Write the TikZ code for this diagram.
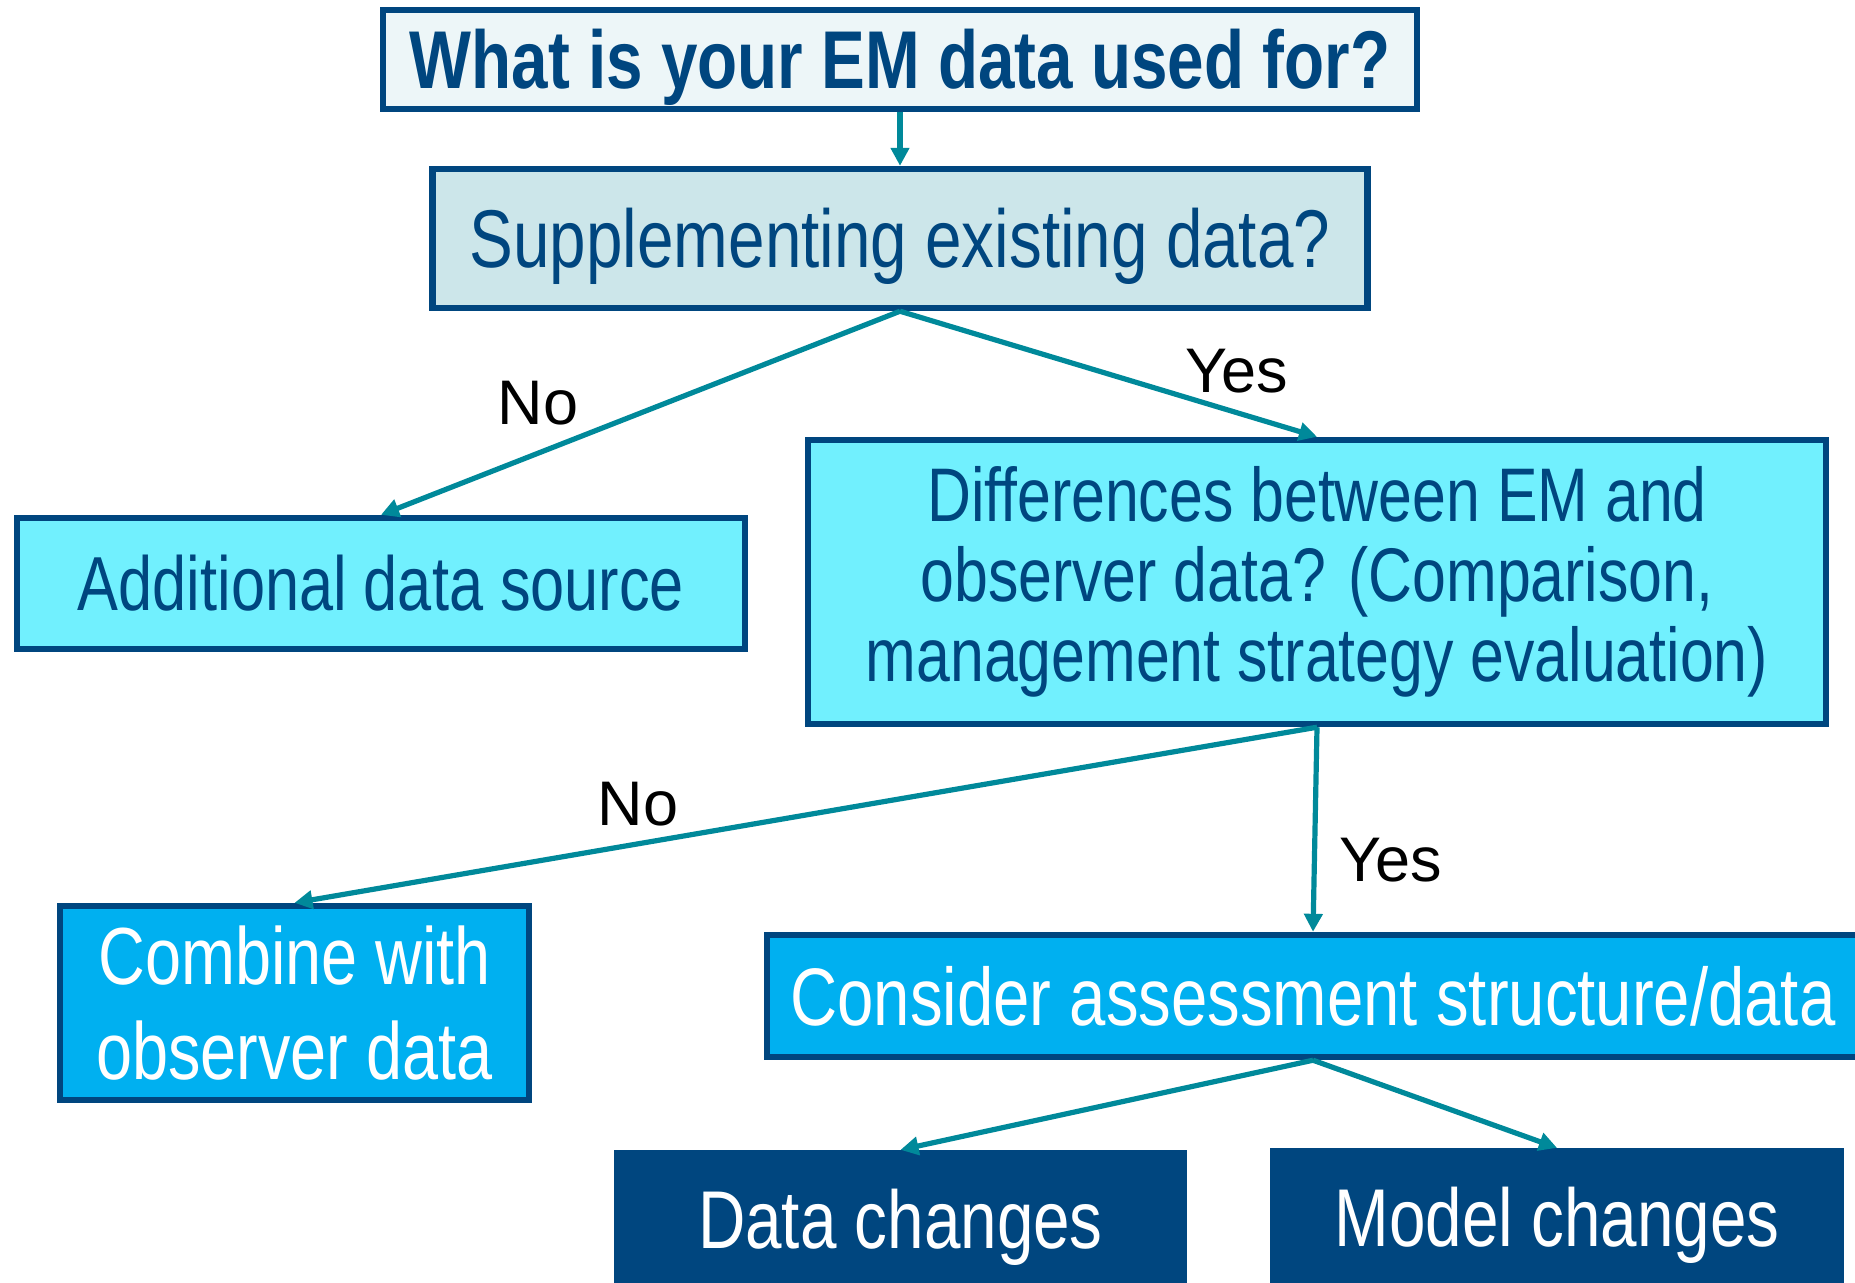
\documentclass[tikz,border=0pt]{standalone}
\usepackage{fontspec}
\setmainfont{Liberation Sans}
\newfontfamily\narrowfont{Liberation Sans}[FakeStretch=0.8]
\usetikzlibrary{arrows.meta}
\definecolor{dblue}{HTML}{00467F}
\definecolor{tealc}{HTML}{00899A}
\definecolor{palefill}{HTML}{EDF6F8}
\definecolor{lightfill}{HTML}{CCE6EA}
\definecolor{cyanfill}{HTML}{71F0FE}
\definecolor{skyfill}{HTML}{00B0F0}
\begin{document}
\begin{tikzpicture}[x=0.5pt,y=-0.5pt,
  box/.style={draw=dblue, line width=3.2pt, inner sep=0pt, align=center, text=dblue},
  oneline/.style={text height=#1, text depth=0pt},
  conn/.style={draw=tealc, line width=2.6pt, -{Triangle[length=9pt,width=9pt]}},
  lbl/.style={font=\fontsize{31.5}{36}\selectfont, text=black, inner sep=0pt}]
\useasboundingbox (0,0) rectangle (1855,1282);
% boxes
\node[box, fill=palefill, minimum width=517pt, minimum height=49.5pt, oneline=29.4pt,
      font=\narrowfont\bfseries\fontsize{41}{49}\selectfont] (q1) at (900,59.5) {What is your EM data used for?};
\node[box, fill=lightfill, minimum width=467.5pt, minimum height=69.5pt, oneline=29.4pt,
      font=\narrowfont\fontsize{41}{49}\selectfont] (q2) at (900,238.5) {Supplementing existing data?};
\node[box, fill=cyanfill, minimum width=364pt, minimum height=65.5pt, oneline=27.4pt,
      font=\narrowfont\fontsize{38.3}{44}\selectfont] (a1) at (381,583.5) {Additional data source};
\node[box, fill=cyanfill, minimum width=509pt, minimum height=142pt,
      font=\narrowfont\fontsize{38}{40}\selectfont] (q3) at (1317,582) {Differences between EM and\\observer data? (Comparison,\\management strategy evaluation)};
\node[box, fill=skyfill, text=white, minimum width=234.5pt, minimum height=97pt,
      font=\narrowfont\fontsize{40.5}{47.5}\selectfont] (a2) at (294.5,1003) {Combine with\\observer data};
\node[box, fill=skyfill, text=white, minimum width=546pt, minimum height=61pt, oneline=29.2pt,
      font=\narrowfont\fontsize{40.8}{48}\selectfont] (q4) at (1313,996) {Consider assessment structure/data};
\node[box, fill=dblue, text=white, minimum width=283pt, minimum height=66pt, oneline=29.4pt,
      font=\narrowfont\fontsize{41}{49}\selectfont] (a3) at (900.5,1219) {Data changes};
\node[box, fill=dblue, text=white, minimum width=283.5pt, minimum height=66pt, oneline=29.4pt,
      font=\narrowfont\fontsize{41}{49}\selectfont] (a4) at (1557,1217) {Model changes};
% connectors
\draw[conn] (q1.south) -- (q2.north);
\draw[conn] (q2.south) -- (a1.north);
\draw[conn] (q2.south) -- (q3.north);
\draw[conn] (q3.south) -- (a2.north);
\draw[conn] (q3.south) -- (q4.north);
\draw[conn] (q4.south) -- (a3.north);
\draw[conn] (q4.south) -- (a4.north);
% labels
\node[lbl] (no1) at (538,403) {No};
\node[lbl] (yes1) at (1237,371) {Yes};
\node[lbl] (no2) at (638,804) {No};
\node[lbl] (yes2) at (1391,860) {Yes};
\end{tikzpicture}
\end{document}
